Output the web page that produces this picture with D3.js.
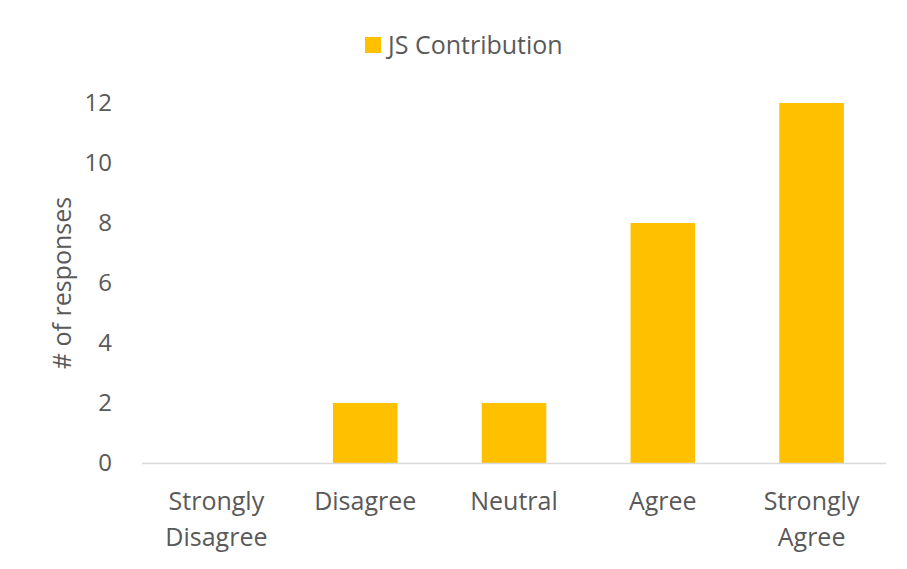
<!DOCTYPE html>
<html><head><meta charset="utf-8">
<script src="https://cdn.jsdelivr.net/npm/d3@7"></script>
<style>body{margin:0;background:#fff}svg{display:block}text{font-family:"Open Sans",sans-serif;fill:#595959}</style>
</head><body><svg id="c" width="907" height="569"></svg>
<script>
const categories = [["Strongly","Disagree"],["Disagree"],["Neutral"],["Agree"],["Strongly","Agree"]];
const values = [0, 2, 2, 8, 12];
const yTicks = [0, 2, 4, 6, 8, 10, 12];
const seriesName = "JS Contribution";
const yTitle = "# of responses";

const svg = d3.select("#c");
const m = {left:142, right:21, top:103, bottom:106};
const W = 907, H = 569;
const x = d3.scaleBand().domain(d3.range(categories.length)).range([m.left, W - m.right]).paddingInner(0.566).paddingOuter(0.283);
const y = d3.scaleLinear().domain([0, 12]).range([H - m.bottom, m.top]);

// y axis labels
const ya = svg.append("g").attr("transform", `translate(${m.left},0)`)
  .call(d3.axisLeft(y).tickValues(yTicks).tickSize(0).tickPadding(30));
ya.select(".domain").remove();
ya.selectAll("text").attr("font-size", 24).style("font-family", '"Open Sans",sans-serif').attr("fill", "#595959");

// bars
svg.append("g").selectAll("rect").data(values).join("rect")
  .attr("x", (d,i) => x(i)).attr("width", x.bandwidth())
  .attr("y", d => y(d)).attr("height", d => y(0) - y(d))
  .attr("fill", "#FFC000");

// baseline
svg.append("line").attr("x1", m.left).attr("x2", W - m.right)
  .attr("y1", y(0) + 0.5).attr("y2", y(0) + 0.5).attr("stroke", "#D9D9D9").attr("stroke-width", 1.3);

// x labels
const xl = svg.append("g").selectAll("text").data(categories).join("text")
  .attr("text-anchor", "middle").attr("font-size", 25)
  .attr("transform", (d,i) => `translate(${x(i) + x.bandwidth()/2},${y(0) + 47})`);
xl.selectAll("tspan").data(d => d).join("tspan").attr("x", 0).attr("dy", (d,i) => i ? 36 : 0).text(d => d);

// y title
svg.append("text").attr("transform", `translate(71,${(y(0)+y(12))/2}) rotate(-90)`)
  .attr("text-anchor", "middle").attr("font-size", 25).text(yTitle);

// legend
const lg = svg.append("g");
lg.append("rect").attr("x", 365).attr("y", 37).attr("width", 16).attr("height", 16).attr("fill", "#FFC000");
lg.append("text").attr("x", 388).attr("y", 54).attr("font-size", 25).text(seriesName);
</script></body></html>
